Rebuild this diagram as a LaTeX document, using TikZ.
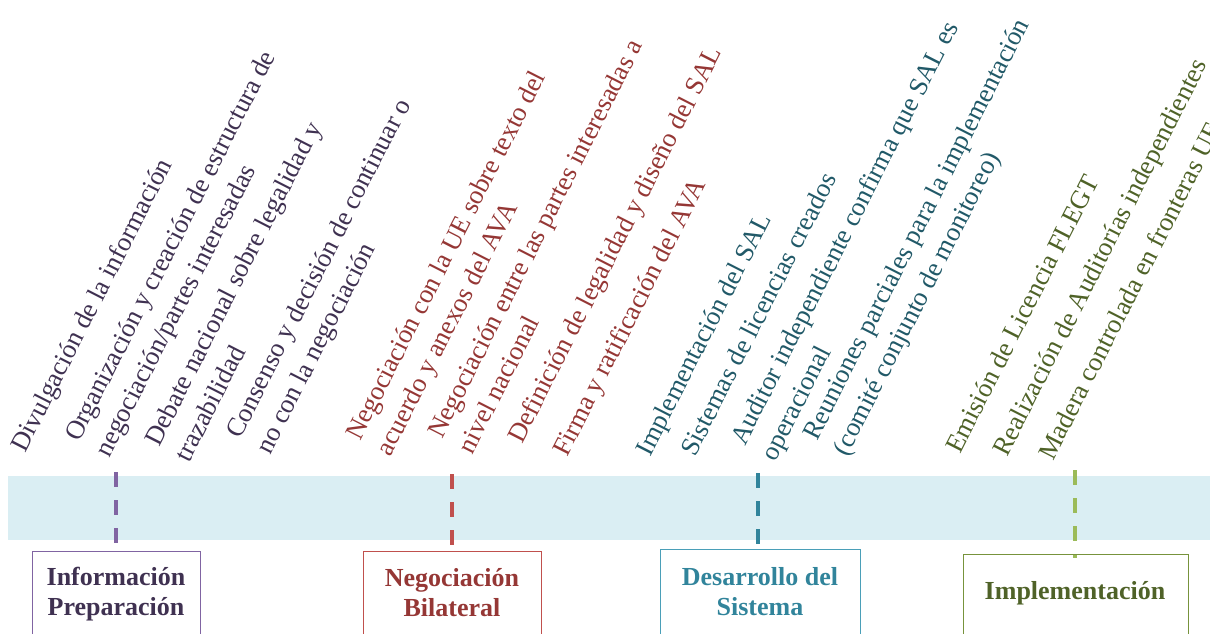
\documentclass[tikz,border=0pt]{standalone}
\usepackage{fontspec}
\setmainfont{Liberation Serif}
\definecolor{bandc}{HTML}{DAEEF3}
\definecolor{purpleL}{HTML}{8064A2}
\definecolor{purpleT}{HTML}{3F3151}
\definecolor{redL}{HTML}{C0504D}
\definecolor{redT}{HTML}{953735}
\definecolor{tealL}{HTML}{31849B}
\definecolor{tealB}{HTML}{4A9FB8}
\definecolor{tealT}{HTML}{215968}
\definecolor{greenL}{HTML}{9BBB59}
\definecolor{greenB}{HTML}{77933C}
\definecolor{greenT}{HTML}{4F6228}
\newcommand{\mlines}[1]{\begin{tabular}[t]{@{}l@{}}#1\end{tabular}}
\newcommand{\mcent}[1]{\begin{tabular}[t]{@{}c@{}}#1\end{tabular}}
\begin{document}
\begin{tikzpicture}[x=0.75pt,y=-0.75pt,
  item/.style={anchor=base west, rotate=63, inner sep=0pt, font=\fontsize{19.9}{25.5}\selectfont},
  phasebox/.style={draw, line width=1.1pt, anchor=north west, inner sep=0pt, minimum height=75pt},
  phaselabel/.style={anchor=base, inner sep=0pt, font=\bfseries\fontsize{19.5}{22.5}\selectfont},
  marker/.style={line width=2.3pt, dash pattern=on 11.25pt off 9.75pt}]
\useasboundingbox (0,0) rectangle (1210,633);
\clip (0,0) rectangle (1210,633);
% band
\node[fill=bandc, anchor=north west, inner sep=0pt, minimum width=902pt, minimum height=48pt] (band) at (8,476) {};
% dashed markers
\coordinate (m1a) at (116,472); \coordinate (m1b) at (116,543);
\coordinate (m2a) at (452,474); \coordinate (m2b) at (452,546);
\coordinate (m3a) at (758,473); \coordinate (m3b) at (758,545);
\coordinate (m4a) at (1075,470); \coordinate (m4b) at (1075,558);
\draw[marker, purpleL] (m1a) -- (m1b);
\draw[marker, redL] (m2a) -- (m2b);
\draw[marker, tealL] (m3a) -- (m3b);
\draw[marker, greenL] (m4a) -- (m4b);
% phase boxes
\node[phasebox, purpleL, minimum width=126pt] (b1) at (32,551) {};
\node[phasebox, redL, minimum width=133.5pt] (b2) at (363,551) {};
\node[phasebox, tealB, minimum width=150pt] (b3) at (660,549) {};
\node[phasebox, greenB, minimum width=168.75pt] (b4) at (963,554) {};
\node[phaselabel, purpleT] (l1) at (116,585) {\mcent{Información\\Preparación}};
\node[phaselabel, redT] (l2) at (452,586) {\mcent{Negociación\\Bilateral}};
\node[phaselabel, tealL] (l3) at (760,585) {\mcent{Desarrollo del\\Sistema}};
\node[phaselabel, greenT] (l4) at (1075,599) {Implementación};
% rotated items
\node[item, purpleT] (t1) at (25,454) {\mlines{Divulgación de la información}};
\node[item, purpleT] (t2) at (79,443) {\mlines{Organización y creación de estructura de\\negociación/partes interesadas}};
\node[item, purpleT] (t3) at (159,448) {\mlines{Debate nacional sobre legalidad y\\trazabilidad}};
\node[item, purpleT] (t4) at (240,440) {\mlines{Consenso y decisión de continuar o\\no con la negociación}};
\node[item, redT] (t5) at (360,442) {\mlines{Negociación con la UE sobre texto del\\acuerdo y anexos del AVA}};
\node[item, redT] (t6) at (442,440) {\mlines{Negociación entre las partes interesadas a\\nivel nacional}};
\node[item, redT] (t7) at (522,445) {\mlines{Definición de legalidad y diseño del SAL}};
\node[item, redT] (t8) at (567,458) {\mlines{Firma y ratificación del AVA}};
\node[item, tealT] (t9) at (650,458) {\mlines{Implementación del SAL}};
\node[item, tealT] (t10) at (695,458) {\mlines{Sistemas de licencias creados}};
\node[item, tealT] (t11) at (745,447) {\mlines{Auditor independiente confirma que SAL es\\operacional}};
\node[item, tealT] (t12) at (817,442) {\mlines{Reuniones parciales para la implementación\\(comité conjunto de monitoreo)}};
\node[item, greenT] (t13) at (960,455) {\mlines{Emisión de Licencia FLEGT}};
\node[item, greenT] (t14) at (1007,458) {\mlines{Realización de Auditorías independientes}};
\node[item, greenT] (t15) at (1053,462) {\mlines{Madera controlada en fronteras UE}};
\end{tikzpicture}
\end{document}
